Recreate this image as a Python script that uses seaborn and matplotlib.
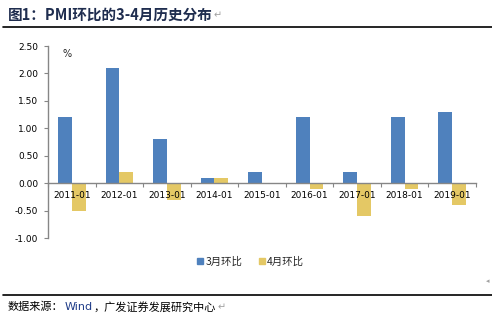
import matplotlib
matplotlib.use("Agg")
import matplotlib.pyplot as plt
import seaborn as sns
import pandas as pd
import numpy as np
from matplotlib.lines import Line2D

categories = ["2011-01", "2012-01", "2013-01", "2014-01", "2015-01",
              "2016-01", "2017-01", "2018-01", "2019-01"]
march_mom = [1.2, 2.1, 0.8, 0.1, 0.2, 1.2, 0.2, 1.2, 1.3]
april_mom = [-0.5, 0.2, -0.3, 0.1, 0.0, -0.1, -0.6, -0.1, -0.4]
series_names = ["3月环比", "4月环比"]
colors = ["#4F81BD", "#E4C865"]
yticks = [2.5, 2.0, 1.5, 1.0, 0.5, 0.0, -0.5, -1.0]

sns.set_theme(style="white")
plt.rcParams["font.family"] = ["Noto Sans CJK SC", "DejaVu Sans"]

df = pd.DataFrame({
    "date": categories * 2,
    "value": march_mom + april_mom,
    "series": [series_names[0]] * len(categories) + [series_names[1]] * len(categories),
})

fig = plt.figure(figsize=(4.92, 3.22), dpi=100)
ax = fig.add_axes([48 / 492, 1 - 238 / 322, (476 - 48) / 492, (238 - 46) / 322])

sns.barplot(data=df, x="date", y="value", hue="series", palette=colors,
            width=0.58, ax=ax, legend=False, saturation=1, linewidth=0, edgecolor="none")

ax.set_xlim(-0.5, len(categories) - 0.5)
ax.set_ylim(-1.0, 2.5)
ax.set_yticks(yticks)
ax.set_yticklabels([f"{v:.2f}" for v in yticks], fontsize=6.5, color="#000000",
                   family="DejaVu Sans")
ax.tick_params(axis="y", direction="out", length=3, width=0.8, color="#868686", pad=4, left=True)
ax.set_xlabel("")
ax.set_ylabel("")

# category axis sits on the zero line, ticks between categories
ax.spines["bottom"].set_position(("data", 0))
for s in ["top", "right"]:
    ax.spines[s].set_visible(False)
for s in ["left", "bottom"]:
    ax.spines[s].set_color("#868686")
    ax.spines[s].set_linewidth(1.0)
ax.set_xticks(np.arange(len(categories)))
ax.set_xticklabels(categories, fontsize=6.5, color="#000000", family="DejaVu Sans")
ax.set_xticks(np.arange(len(categories) + 1) - 0.5, minor=True)
ax.tick_params(axis="x", which="major", length=0, pad=6, bottom=True)
ax.tick_params(axis="x", which="minor", direction="out", length=3, width=0.8,
               color="#868686", bottom=True)
ax.set_axisbelow(False)

ax.text(0.035, 0.985, "%", transform=ax.transAxes, fontsize=7, va="top", ha="left",
        family="DejaVu Sans")

# legend below the plot
handles = [Line2D([], [], marker="s", linestyle="", markersize=5,
                  markerfacecolor=c, markeredgecolor=c) for c in colors]
fig.legend(handles, series_names, loc="center", bbox_to_anchor=(250 / 492, 1 - 262 / 322),
           ncol=2, frameon=False, fontsize=7.5, handletextpad=0.1, columnspacing=1.5,
           handlelength=0.8)

# title, rules and source note
title = fig.text(8 / 492, 1 - 15 / 322, "图1：PMI环比的3-4月历史分布", fontsize=10.5,
                 fontweight="bold", color="#1F2D4F", va="center", ha="left")
fig.add_artist(Line2D([3 / 492, 1.0], [1 - 27 / 322] * 2, color="#000000", linewidth=1.2))
fig.add_artist(Line2D([3 / 492, 1.0], [1 - 295 / 322] * 2, color="#000000", linewidth=1.2))
fig.text(488 / 492, 1 - 281 / 322, "◂", fontsize=5, color="#A0A0A0", va="center", ha="center",
         family="DejaVu Sans")

renderer = fig.canvas.get_renderer()


def place_after(prev, s, **kw):
    bb = prev.get_window_extent(renderer)
    x = bb.x1 / fig.bbox.width + 1 / 492
    return fig.text(x, prev.get_position()[1], s, va="center", ha="left", **kw)


place_after(title, "↵", fontsize=7, color="#A0A0A0", family="DejaVu Sans")

src = fig.text(8 / 492, 1 - 307 / 322, "数据来源：", fontsize=8, color="#000000",
               va="center", ha="left")
wind = place_after(src, "Wind", fontsize=8, color="#1F3C88", family="DejaVu Sans")
rest = place_after(wind, "，广发证券发展研究中心", fontsize=8, color="#000000")
place_after(rest, "↵", fontsize=7, color="#A0A0A0", family="DejaVu Sans")

fig.savefig("out.png", dpi=100)
